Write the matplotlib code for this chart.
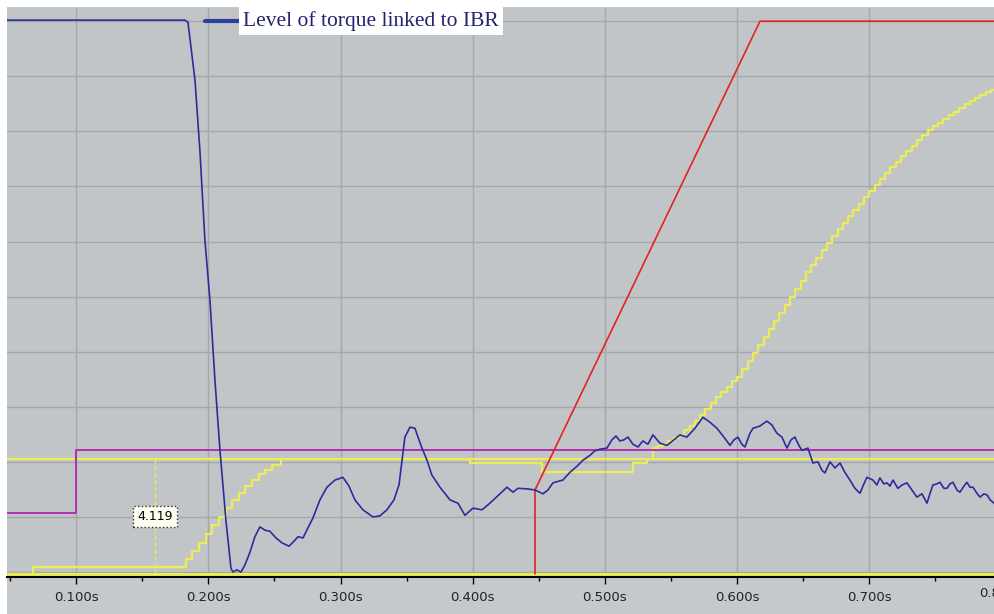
import numpy as np
import matplotlib
matplotlib.use("Agg")
import matplotlib.pyplot as plt
from matplotlib.lines import Line2D
from matplotlib.patches import Rectangle

# time in seconds, level in % of full scale
torque_t = [0.042, 0.1823, 0.1846, 0.1899, 0.1936, 0.1974, 0.2012, 0.2050, 0.2088, 0.2133,
            0.2171, 0.2186, 0.2216, 0.2247, 0.2277, 0.2315, 0.2352, 0.2390, 0.2428, 0.2466,
            0.2511, 0.2557, 0.2610, 0.2648, 0.2678, 0.2716, 0.2753, 0.2791, 0.2844, 0.2897,
            0.2958, 0.3018, 0.3064, 0.3109, 0.3169, 0.3245, 0.3298, 0.3351, 0.3404, 0.3442,
            0.3465, 0.3487, 0.3525, 0.3563, 0.3608, 0.3654, 0.3691, 0.3752, 0.3828, 0.3888,
            0.3941, 0.4002, 0.4070, 0.4130, 0.4206, 0.4259, 0.4304, 0.4342, 0.4410, 0.4471,
            0.4531, 0.4569, 0.4607, 0.4682, 0.4735, 0.4788, 0.4834, 0.4887, 0.4924, 0.4962,
            0.5015, 0.5053, 0.5083, 0.5113, 0.5144, 0.5174, 0.5212, 0.5250, 0.5287, 0.5325,
            0.5363, 0.5416, 0.5469, 0.5522, 0.5567, 0.5620, 0.5681, 0.5741, 0.5794, 0.5847,
            0.5900, 0.5946, 0.5976, 0.6006, 0.6036, 0.6059, 0.6097, 0.6120, 0.6172, 0.6225,
            0.6263, 0.6301, 0.6339, 0.6377, 0.6407, 0.6437, 0.6467, 0.6490, 0.6536, 0.6573,
            0.6611, 0.6641, 0.6664, 0.6702, 0.6740, 0.6778, 0.6815, 0.6853, 0.6891, 0.6929,
            0.6959, 0.6982, 0.7027, 0.7057, 0.7080, 0.7110, 0.7133, 0.7156, 0.7179, 0.7216,
            0.7247, 0.7284, 0.7322, 0.7360, 0.7398, 0.7436, 0.7458, 0.7481, 0.7511, 0.7534,
            0.7564, 0.7587, 0.7610, 0.7632, 0.7663, 0.7685, 0.7716, 0.7738, 0.7761, 0.7784,
            0.7814, 0.7837, 0.7867, 0.7890, 0.7914, 0.7943]
torque_v = [100.2, 100.2, 99.8, 89.3, 76.6, 60.3, 49.4, 34.8, 22.1, 9.4,
            0.7, 0.0, 0.4, 0.0, 1.3, 3.6, 6.4, 8.2, 7.6, 7.4,
            6.2, 5.3, 4.7, 5.6, 6.4, 6.2, 8.0, 9.8, 13.1, 15.4,
            16.7, 17.2, 15.6, 13.1, 11.3, 10.0, 10.2, 11.3, 13.1, 15.8,
            20.3, 24.5, 26.3, 26.1, 23.0, 20.3, 17.6, 15.4, 13.1, 12.5,
            10.3, 11.6, 11.3, 12.5, 14.2, 15.4, 14.5, 15.2, 15.1, 14.9,
            14.2, 14.9, 16.2, 16.7, 18.1, 19.2, 20.3, 21.2, 22.0, 22.3,
            22.5, 24.0, 24.7, 23.8, 24.0, 24.5, 23.2, 22.7, 23.8, 23.2,
            24.9, 23.4, 23.0, 24.0, 24.9, 24.5, 26.1, 28.1, 27.2, 26.1,
            24.5, 23.0, 24.0, 24.5, 23.2, 22.7, 25.2, 26.1, 26.5, 27.4,
            26.7, 25.2, 24.5, 22.5, 24.0, 24.5, 23.0, 22.1, 22.5, 19.8,
            20.0, 18.5, 18.0, 20.0, 18.9, 19.8, 18.1, 16.7, 15.2, 14.3,
            16.0, 17.2, 16.7, 15.8, 17.1, 16.0, 16.2, 15.6, 16.7, 15.2,
            15.8, 16.2, 14.9, 13.6, 14.2, 12.5, 14.2, 15.8, 16.0, 16.3,
            15.2, 15.2, 16.0, 16.3, 14.9, 14.5, 15.6, 16.3, 15.4, 15.4,
            14.3, 13.6, 14.2, 14.0, 13.1, 12.5]

red_t = [0.4471, 0.4471, 0.6173, 0.7943]
red_v = [-0.3, 14.9, 100.0, 100.0]

magenta_t = [0.0477, 0.1000, 0.7943]
magenta_v = [10.7, 22.1, 22.1]

# stepped yellow trace (steps-post)
stair_t = [0.0477, 0.0673, 0.183, 0.188, 0.193, 0.198, 0.203, 0.208, 0.213, 0.218,
           0.223, 0.228, 0.233, 0.238, 0.243, 0.248, 0.255, 0.3979, 0.4523, 0.5212]
stair_v = [-0.4, 0.9, 2.3, 3.8, 5.3, 6.9, 8.5, 10.0, 11.6, 13.0,
           14.4, 15.7, 16.8, 17.8, 18.6, 19.5, 20.5, 19.8, 18.1, 19.8]
ramp_v = [20.6, 22.5, 22.9, 23.3, 23.8, 24.3, 24.8, 25.7, 26.6, 27.5,
          28.6, 29.6, 30.7, 31.7, 32.7, 33.6, 34.6, 35.5, 36.9, 38.3,
          39.7, 41.2, 42.6, 44.1, 45.5, 47.0, 48.5, 49.9, 51.4, 52.9,
          54.5, 55.8, 57.1, 58.4, 59.7, 61.0, 62.2, 63.4, 64.6, 65.8,
          66.9, 68.0, 69.1, 70.2, 71.3, 72.4, 73.5, 74.5, 75.5, 76.4,
          77.4, 78.4, 79.3, 80.2, 80.9, 81.6, 82.3, 83.0, 83.6, 84.3,
          84.9, 85.5, 86.1, 86.6, 87.1, 87.5]
ramp_t = 0.532 + 0.004 * np.arange(len(ramp_v))

ref_high = 20.5
ref_low = -0.4
cursor_t = 0.1596
cursor_label = "4.119"
xticks = [0.1, 0.2, 0.3, 0.4, 0.5, 0.6, 0.7]
xlabels = ["0.100s", "0.200s", "0.300s", "0.400s", "0.500s", "0.600s", "0.700s"]

bg = "#c2c5c8"
grid_c = "#a4a7ab"
yellow = "#ecec55"

fig = plt.figure(figsize=(9.94, 6.14), dpi=100, facecolor="white")
fig.patches.append(Rectangle((7 / 994, 0), 1, 607 / 614, transform=fig.transFigure,
                             facecolor="#c6c9cc", edgecolor="none", zorder=-1))
ax = fig.add_axes([7 / 994, 37 / 614, 987 / 994, 569 / 614])
ax.set_facecolor(bg)
ax.set_xlim(0.0477, 0.7943)
ax.set_ylim(-0.9, 102.4)

ax.set_xticks(xticks)
ax.set_xticklabels(xlabels)
ax.set_xticks([0.05] + list(np.array(xticks) + 0.05), minor=True)
ax.set_yticks(np.arange(0, 101, 10))
ax.tick_params(axis="y", left=False, labelleft=False)
ax.tick_params(axis="x", which="major", length=5, width=1, color="black",
               labelsize=9.5, labelcolor="#222222", pad=5)
ax.tick_params(axis="x", which="minor", length=3, width=1, color="black")
ax.grid(True, which="major", color=grid_c, linewidth=1)
for s in ["top", "left", "right"]:
    ax.spines[s].set_visible(False)
ax.spines["bottom"].set_linewidth(1.5)
ax.set_axisbelow(True)

ax.axhline(ref_high, color=yellow, lw=1.6, zorder=2)
ax.axhline(ref_low, color=yellow, lw=2.2, zorder=2)
ax.plot(list(stair_t) + list(ramp_t) + [0.7943], stair_v + ramp_v + [ramp_v[-1]],
        drawstyle="steps-post", color=yellow, lw=1.6, zorder=3)
ax.plot(magenta_t, magenta_v, drawstyle="steps-post", color="#b22fb2", lw=1.4, zorder=4)
ax.plot(red_t, red_v, color="#e42222", lw=1.2, zorder=5)
ax.plot(torque_t, torque_v, color="#2c2c9c", lw=1.2, zorder=6)

# cursor
ax.plot([cursor_t, cursor_t], [ref_low, ref_high], color=yellow, lw=1, ls=(0, (3, 2)), zorder=3)
ax.text(cursor_t, 10.1, cursor_label, ha="center", va="center", fontsize=9, color="black",
        zorder=7, bbox=dict(boxstyle="square,pad=0.35", facecolor="#fffff2",
                            edgecolor="#333333", linestyle=":", linewidth=1))

# partial last tick label, cut by the right edge as in the source
ax.text(0.8, -0.017, "0.800s", transform=ax.get_xaxis_transform(), ha="center", va="top",
        fontsize=9.5, color="#222222", clip_on=False)

# legend
ax.add_line(Line2D([0.2005, 0.236], [0.9775, 0.9775], transform=ax.transAxes,
                   color="#2c3f99", lw=3, solid_capstyle="round", zorder=8))
ax.text(0.239, 0.9775, "Level of torque linked to IBR", transform=ax.transAxes,
        ha="left", va="center", fontsize=15.5, family="Liberation Serif", color="#23236e",
        zorder=8, bbox=dict(boxstyle="square,pad=0.2", facecolor="white", edgecolor="none"))

fig.savefig("out.png", dpi=100, facecolor=fig.get_facecolor())
